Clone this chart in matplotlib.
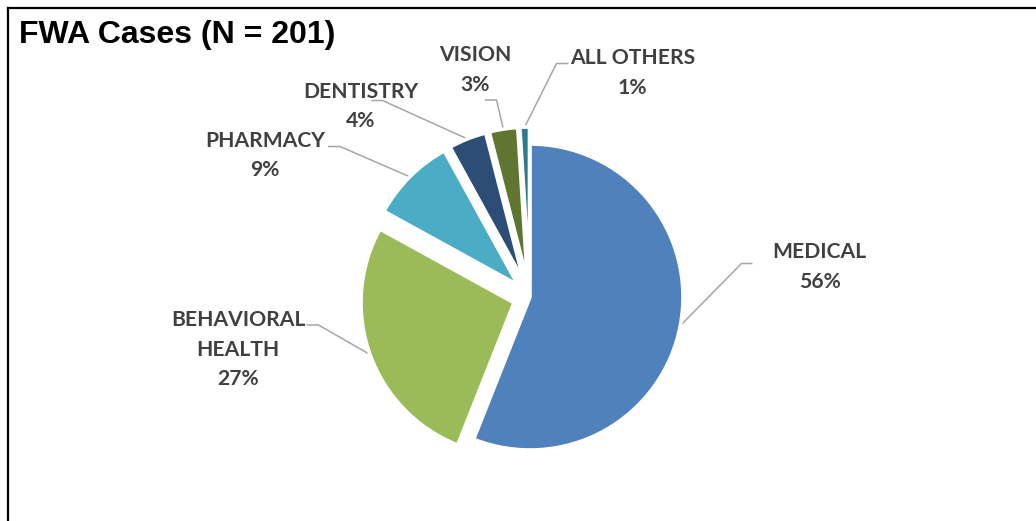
import matplotlib.pyplot as plt
import numpy as np

# FWA case mix by provider type
categories = ['MEDICAL', 'BEHAVIORAL\nHEALTH', 'PHARMACY', 'DENTISTRY', 'VISION', 'ALL OTHERS']
shares = [56, 27, 9, 4, 3, 1]
colors = ['#4F81BD', '#9BBB59', '#4BACC6', '#2C4D75', '#5F7530', '#2B7A8E']
title = 'FWA Cases (N = 201)'

W, H = 1036, 521
cx, cy, r = 530, H - 297, 153
explode = [0, 17, 17, 17, 17, 17]

# label anchor: (x centre, cap-centre of first line), pixels from top-left
label_pos = [(819.5, 251), (238, 319), (265, 139.5), (361, 90.5), (475, 54), (632.5, 57)]
# leader lines: horizontal tail (x start, x end, y), then straight to the slice
leaders = [(752.5, 741.5, 263.5), (306.5, 318.5, 325), (328, 340, 146.5),
           (371.5, 382.5, 100.5), (485, 496.5, 100), (568.5, 556.5, 63.5)]
pitch = 29.5
txt_color = '#404040'

fig = plt.figure(figsize=(W / 100, H / 100), dpi=100)
ax = fig.add_axes([0, 0, 1, 1])

wedges, _ = ax.pie(shares, colors=colors, startangle=90, counterclock=False,
                   radius=r, center=(cx, cy), explode=explode,
                   wedgeprops=dict(edgecolor='white', linewidth=2.6))
ax.set_xlim(0, W)
ax.set_ylim(0, H)
ax.axis('off')

for w, cat, v, (lx, ly), (x0, x1, yl) in zip(wedges, categories, shares, label_pos, leaders):
    lines = cat.split('\n') + [f'{v}%']
    for i, s in enumerate(lines):
        ax.text(lx, H - (ly + 7.4 + i * pitch), s, ha='center', va='baseline',
                fontsize=15.2, fontweight='bold', family='Lato', color=txt_color)
    th = np.deg2rad((w.theta1 + w.theta2) / 2)
    px = w.center[0] + w.r * np.cos(th)
    py = w.center[1] + w.r * np.sin(th)
    ax.plot([x0, x1, px], [H - yl, H - yl, py], color='#A6A6A6', lw=1.1,
            solid_capstyle='butt', zorder=0.5)

ax.text(19, H - 43.3, title, ha='left', va='baseline', fontsize=23,
        fontweight='bold', family='Liberation Sans', color='black')

# chart frame: left and top edges only
ax.plot([7.5, 7.5], [0, H - 7.5], color='black', lw=1.6, clip_on=False)
ax.plot([7.5, W], [H - 7.5, H - 7.5], color='black', lw=1.6, clip_on=False)

fig.savefig('out.png', dpi=100, facecolor='white')
